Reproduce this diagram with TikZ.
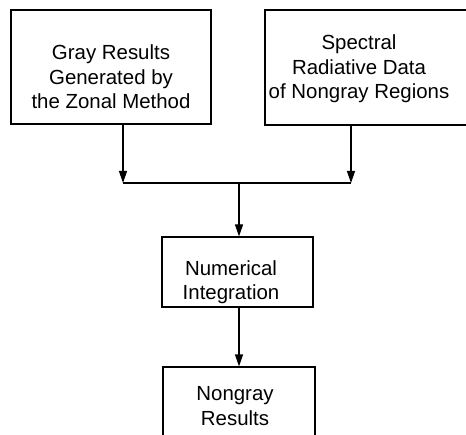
\documentclass[tikz,border=0pt]{standalone}
\usepackage{fontspec}
\setmainfont{Liberation Sans}
\usetikzlibrary{arrows.meta}
\begin{document}
\begin{tikzpicture}[x=1bp,y=-1bp,
  box/.style={draw, line width=1.2bp, inner sep=0pt},
  lbl/.style={align=center, inner sep=0pt, font=\fontsize{20.5}{24.5}\selectfont},
  conn/.style={line width=1.2bp},
  arr/.style={conn, -{Triangle[length=12bp,width=8bp]}}]
\useasboundingbox (0,0) rectangle (466,435);
\clip (0,0) rectangle (466,435);
% boxes
\node[box, minimum width=200bp, minimum height=114bp] (b1) at (111,67) {};
\node[lbl] (t1) at (111,77) {Gray Results\\Generated by\\the Zonal Method};
\node[box, minimum width=220bp, minimum height=115bp] (b2) at (375,67.5) {};
\node[lbl] (t2) at (359,69) {Spectral\\Radiative Data\\of Nongray Regions};
\node[box, minimum width=151bp, minimum height=70bp] (b3) at (237.5,272) {};
\node[lbl] (t3) at (231,282) {Numerical\\Integration};
\node[box, minimum width=152bp, minimum height=100bp] (b4) at (239,417) {};
\node[lbl] (t4) at (235,406) {Nongray\\Results};
% connectors
\coordinate (j1) at (123,183);
\coordinate (j2) at (351,183);
\coordinate (jm) at (239,183);
\draw[arr] (j1 |- b1.south) -- (j1);
\draw[arr] (j2 |- b2.south) -- (j2);
\draw[conn] (j1) -- (j2);
\draw[arr] (jm) -- (jm |- b3.north);
\draw[arr] (jm |- b3.south) -- (jm |- b4.north);
\end{tikzpicture}
\end{document}
